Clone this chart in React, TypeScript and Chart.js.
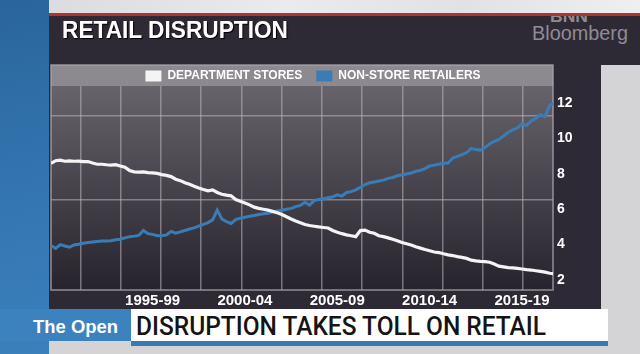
import React, { useEffect, useLayoutEffect, useRef } from "react";
import { Chart, registerables } from "chart.js";

Chart.register(...registerables);

// ---------- data ----------
const seriesNames = ["DEPARTMENT STORES", "NON-STORE RETAILERS"];
const periodLabels = ["1995-99", "2000-04", "2005-09", "2010-14", "2015-19"];
const periodCenters = [1997.5, 2002.5, 2007.5, 2012.5, 2017.5];
const yTickValues = [2, 4, 6, 8, 10, 12];
const firstQuarter = 1992.0; // quarterly observations from Q1 1992

// share of total retail sales (%), quarterly
const departmentStores = [
  8.6, 8.75, 8.78, 8.72,
  8.74, 8.72, 8.73, 8.7,
  8.7, 8.62, 8.55, 8.55,
  8.52, 8.5, 8.53, 8.45,
  8.38, 8.2, 8.12, 8.1,
  8.12, 8.08, 8.06, 8.03,
  7.96, 7.92, 7.85, 7.7,
  7.62, 7.5, 7.42, 7.3,
  7.2, 7.12, 7.05, 7.1,
  6.95, 6.85, 6.8, 6.76,
  6.55, 6.45, 6.35, 6.25,
  6.12, 6.05, 6.0, 5.95,
  5.88, 5.8, 5.7, 5.58,
  5.45, 5.34, 5.24, 5.14,
  5.08, 5.04, 5.0, 4.97,
  4.94, 4.8, 4.7, 4.62,
  4.55, 4.5, 4.45, 4.8,
  4.82, 4.7, 4.64, 4.5,
  4.45, 4.38, 4.3, 4.22,
  4.12, 4.05, 3.98, 3.88,
  3.8, 3.72, 3.65, 3.58,
  3.55, 3.48, 3.42, 3.38,
  3.32, 3.28, 3.22, 3.12,
  3.08, 3.05, 3.04, 3.0,
  2.9, 2.78, 2.74, 2.7,
  2.68, 2.65, 2.62, 2.58,
  2.56, 2.52, 2.48, 2.44,
  2.38, 2.34,
];

const nonStoreRetailers = [
  3.95, 3.78, 4.0, 3.92,
  3.85, 3.98, 4.02, 4.08,
  4.12, 4.15, 4.18, 4.2,
  4.2, 4.22, 4.27, 4.3,
  4.38, 4.45, 4.48, 4.52,
  4.8, 4.62, 4.58, 4.5,
  4.5, 4.55, 4.75, 4.65,
  4.72, 4.8, 4.88, 4.95,
  5.05, 5.15, 5.25, 5.4,
  5.95, 5.45, 5.3, 5.2,
  5.42, 5.5, 5.55, 5.6,
  5.65, 5.7, 5.75, 5.78,
  5.85, 5.9, 5.95, 6.0,
  6.05, 6.15, 6.22, 6.4,
  6.24, 6.5, 6.55, 6.6,
  6.65, 6.7, 6.82, 6.75,
  6.95, 7.0, 7.1, 7.25,
  7.4, 7.5, 7.55, 7.6,
  7.65, 7.75, 7.8, 7.9,
  7.95, 8.0, 8.05, 8.15,
  8.2, 8.3, 8.45, 8.5,
  8.55, 8.6, 8.62, 8.9,
  9.0, 9.1, 9.2, 9.45,
  9.38, 9.35, 9.5, 9.7,
  9.85, 9.95, 10.15, 10.35,
  10.5, 10.6, 10.85, 10.75,
  11.0, 11.15, 11.35, 11.25,
  11.9, 12.0,
];

const quarters = departmentStores.map((_, i) => firstQuarter + i / 4);

// ---------- style ----------
const FONT = '"Liberation Sans", Arial, Helvetica, sans-serif';
const WHITE_LINE = "#f4f4f4";
const BLUE_LINE = "#3a7db6";
const GRID = "rgba(185,182,190,0.55)";

const panelPlugin = {
  id: "tvPanel",
  beforeDraw(chart: any) {
    const { ctx, chartArea: a } = chart;
    ctx.save();
    const g = ctx.createLinearGradient(0, a.top, 0, a.bottom);
    g.addColorStop(0, "#66636b");
    g.addColorStop(1, "#27232c");
    ctx.fillStyle = g;
    ctx.fillRect(a.left, a.top, a.right - a.left, a.bottom - a.top);
    ctx.fillStyle = "#8c898f";
    ctx.fillRect(a.left, a.top - 21, a.right - a.left, 21);
    ctx.restore();
  },
  beforeDatasetsDraw(chart: any) {
    const { ctx, chartArea: a } = chart;
    ctx.save();
    ctx.strokeStyle = "rgba(170,167,175,0.8)";
    ctx.lineWidth = 1.5;
    ctx.strokeRect(a.left, a.top - 21, a.right - a.left, a.bottom - a.top + 21);
    ctx.restore();
  },
};

function FitText(props: {
  text: string;
  left: number;
  baseline: number;
  size: number;
  width: number;
  weight?: number | string;
  family?: string;
  color: string;
  shadow?: string;
  z?: number;
}) {
  const ref = useRef<HTMLSpanElement>(null);
  useLayoutEffect(() => {
    const el = ref.current;
    if (!el) return;
    el.style.transform = "none";
    const w = el.getBoundingClientRect().width;
    if (w > 0) el.style.transform = `scaleX(${props.width / w})`;
  }, [props.text, props.width]);
  return (
    <span
      ref={ref}
      style={{
        position: "absolute",
        left: props.left,
        top: props.baseline - 0.846 * props.size,
        fontSize: props.size,
        lineHeight: `${props.size}px`,
        fontWeight: props.weight ?? "bold",
        fontFamily: props.family ?? FONT,
        color: props.color,
        whiteSpace: "nowrap",
        transformOrigin: "0 0",
        textShadow: props.shadow,
        zIndex: props.z ?? 2,
      }}
    >
      {props.text}
    </span>
  );
}

function RetailChart() {
  const canvasRef = useRef<HTMLCanvasElement>(null);
  useEffect(() => {
    const canvas = canvasRef.current;
    if (!canvas) return;
    const tickFont = (size: number) => ({ family: FONT, size, weight: "bold" as const });
    const chart = new Chart(canvas, {
      type: "line",
      data: {
        datasets: [
          {
            label: seriesNames[0],
            data: quarters.map((x, i) => ({ x, y: departmentStores[i] })),
            borderColor: WHITE_LINE,
            backgroundColor: WHITE_LINE,
            borderWidth: 3.2,
            pointRadius: 0,
            tension: 0,
          },
          {
            label: seriesNames[1],
            data: quarters.map((x, i) => ({ x, y: nonStoreRetailers[i] })),
            borderColor: BLUE_LINE,
            backgroundColor: BLUE_LINE,
            borderWidth: 3,
            pointRadius: 0,
            tension: 0,
          },
        ],
      },
      options: {
        animation: false,
        responsive: false,
        events: [],
        layout: { padding: { left: 51, right: 65, top: 56, bottom: 39 } },
        plugins: {
          tooltip: { enabled: false },
          title: { display: false },
          legend: {
            position: "top",
            align: "center",
            maxHeight: 30,
            labels: {
              color: "#ffffff",
              font: { family: FONT, size: 12, weight: "bold" },
              boxWidth: 16,
              boxHeight: 11,
              padding: 14,
              generateLabels: (c: any) =>
                c.data.datasets.map((ds: any, i: number) => ({
                  text: ds.label,
                  fillStyle: ds.borderColor,
                  strokeStyle: ds.borderColor,
                  lineWidth: 0,
                  hidden: false,
                  datasetIndex: i,
                  fontColor: "#ffffff",
                })),
            },
          },
        },
        scales: {
          x: {
            type: "linear",
            position: "bottom",
            min: 1992.0,
            max: 2019.18,
            afterBuildTicks: (s: any) => {
              s.ticks = periodCenters.map((v) => ({ value: v }));
            },
            afterFit: (s: any) => {
              s.height = 25;
            },
            ticks: {
              color: "#ffffff",
              font: tickFont(15),
              padding: 2,
              autoSkip: false,
              maxRotation: 0,
              callback: (_v: any, i: number) => periodLabels[i],
            },
            grid: { display: false, drawTicks: false },
            border: { display: false },
          },
          xg: {
            type: "linear",
            position: "top",
            min: -0.727,
            max: 11.744,
            afterBuildTicks: (s: any) => {
              s.ticks = [0, 1, 2, 3, 4, 5, 6, 7, 8, 9, 10, 11].map((v) => ({ value: v }));
            },
            afterFit: (s: any) => {
              s.height = 0;
            },
            ticks: { display: false },
            grid: { color: GRID, lineWidth: 1.5, drawTicks: false },
            border: { display: false },
          },
          y: {
            type: "linear",
            position: "right",
            min: 1.43,
            max: 12.98,
            afterBuildTicks: (s: any) => {
              s.ticks = yTickValues.map((v) => ({ value: v }));
            },
            afterFit: (s: any) => {
              s.width = 22;
            },
            ticks: { color: "#ffffff", font: tickFont(14), padding: 4 },
            grid: { display: false, drawTicks: false },
            border: { display: false },
          },
          yg: {
            type: "linear",
            position: "left",
            min: 1.43,
            max: 12.98,
            afterBuildTicks: (s: any) => {
              s.ticks = [6.52, 11.28].map((v) => ({ value: v }));
            },
            afterFit: (s: any) => {
              s.width = 0;
            },
            ticks: { display: false },
            grid: { color: GRID, lineWidth: 1.5, drawTicks: false },
            border: { display: false },
          },
        },
      } as any,
      plugins: [panelPlugin],
    });
    return () => chart.destroy();
  }, []);
  return (
    <canvas
      ref={canvasRef}
      width={640}
      height={354}
      style={{ position: "absolute", left: 0, top: 0, width: 640, height: 354, zIndex: 1 }}
    />
  );
}

export default function App() {
  const abs = (s: React.CSSProperties): React.CSSProperties => ({ position: "absolute", ...s });
  return (
    <div
      style={{
        position: "fixed",
        left: 0,
        top: 0,
        width: 640,
        height: 354,
        overflow: "hidden",
        background: "#d4d4d7",
        fontFamily: FONT,
      }}
    >
      {/* dark studio panel */}
      <div style={abs({ left: 49, top: 16, width: 552, height: 293, background: "#2e2a35" })} />
      <div style={abs({ left: 601, top: 16, width: 39, height: 49, background: "#2e2a35" })} />
      {/* logo (partly under the top strip) */}
      <FitText text="BNN" left={550} baseline={22} size={17} width={38} color="#8e8c93" z={1} />
      <FitText text="Bloomberg" left={532} baseline={40} size={20} width={96} weight="normal" color="#8e8c93" z={1} />
      {/* top strip and red rule */}
      <div style={abs({ left: 49, top: 0, width: 591, height: 13, background: "linear-gradient(90deg,#dcdcdf,#ebebed 40%,#e2e2e5 70%,#efeff0)", zIndex: 3 })} />
      <div style={abs({ left: 49, top: 13, width: 591, height: 3, background: "#b5312a", zIndex: 3 })} />
      {/* left blue strip */}
      <div style={abs({ left: 0, top: 0, width: 49, height: 354, background: "linear-gradient(170deg,#2a659c 0%,#3273ad 45%,#3b80bb 100%)", zIndex: 3 })} />
      {/* title */}
      <FitText text="RETAIL DISRUPTION" left={62} baseline={38} size={24} width={226} color="#ffffff" shadow="1px 1px 1px #000" />
      <RetailChart />
      {/* lower third */}
      <div style={abs({ left: 0, top: 309, width: 131, height: 32, background: "#3b82bf", zIndex: 4 })} />
      <div style={abs({ left: 131, top: 309, width: 477, height: 32, background: "#ffffff", zIndex: 4 })} />
      <div style={abs({ left: 131, top: 341, width: 477, height: 5, background: "#3a7ab2", zIndex: 4 })} />
      <FitText text="The Open" left={33} baseline={333} size={19} width={85} color="#ffffff" z={5} />
      <FitText
        text="DISRUPTION TAKES TOLL ON RETAIL"
        left={136}
        baseline={335}
        size={25}
        width={410}
        weight={500}
        family='Roboto, "Liberation Sans", Arial, sans-serif'
        color="#141414"
        z={5}
      />
    </div>
  );
}
